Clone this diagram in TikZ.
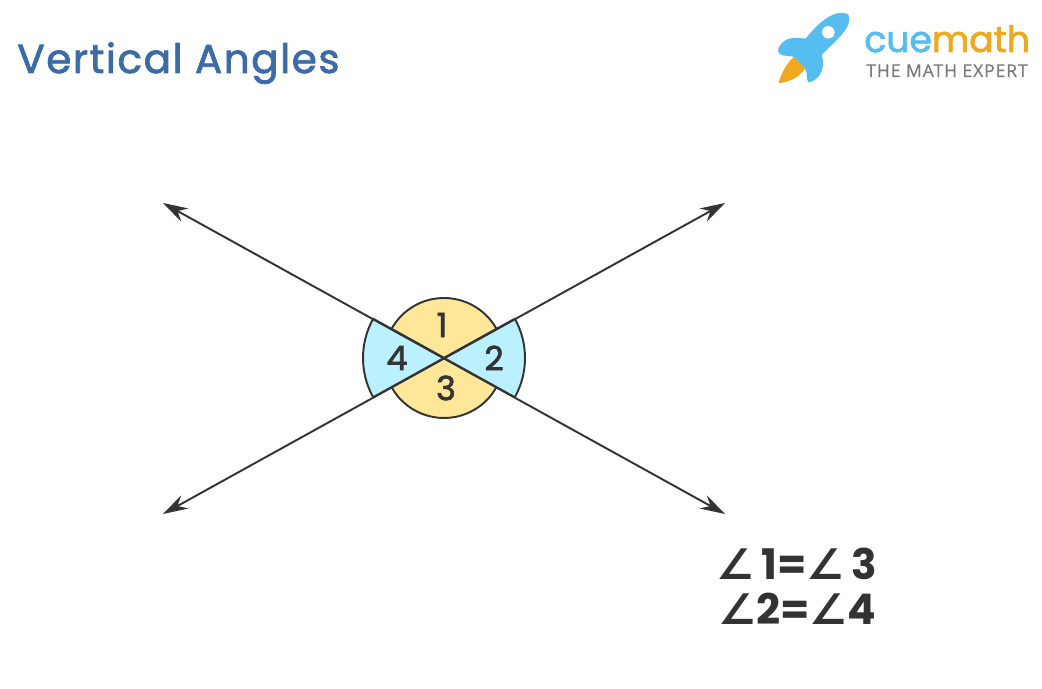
\documentclass[tikz,border=0pt]{standalone}
\usepackage{fontspec}
\setmainfont{Poppins}
\newfontfamily\angfont{DejaVu Sans}
\newfontfamily\titlefont[LetterSpace=4,FakeBold=2]{Poppins}
\newfontfamily\digitfont[FakeBold=2]{Poppins}
\newfontfamily\logofont[FakeBold=2]{Poppins}
\newfontfamily\subfont[LetterSpace=5,FakeBold=0.5]{Open Sans}
\usetikzlibrary{arrows.meta,positioning}
\definecolor{inkdark}{HTML}{333333}
\definecolor{sunfill}{HTML}{FFE799}
\definecolor{skyfill}{HTML}{BBF1FF}
\definecolor{titleblue}{HTML}{3C6CA8}
\definecolor{rocketblue}{HTML}{56BDF0}
\definecolor{rocketorange}{HTML}{F0A91F}
\definecolor{subgray}{HTML}{7A7A7A}
\newcommand{\ang}{{\angfont\char"2220}}
\tikzset{
	ray/.style={draw=inkdark,line width=1.1pt,{Stealth[length=.5cm,width=.3cm,inset=.17cm]}-{Stealth[length=.5cm,width=.3cm,inset=.17cm]}},
	sector/.style={draw=inkdark,line width=1.1pt,line join=round},
	number/.style={text=inkdark,font=\fontsize{19}{19}\selectfont\digitfont,inner sep=0pt},
	equal/.style={text=inkdark,font=\fontsize{24}{24}\selectfont\bfseries,inner sep=0pt,anchor=base west}
}

\begin{document}
\begin{tikzpicture}[x=0.02cm,y=0.02cm]
			\useasboundingbox (0,0) rectangle (1042,689);
			% points of the two lines, y counted from the bottom
			\coordinate (ctr) at (444,331);
			\coordinate (nw) at (163,486);
			\coordinate (ne) at (725,486);
			\coordinate (sw) at (163,175);
			\coordinate (se) at (725,175);
			% angles
			\draw[sector,fill=sunfill] (ctr) -- ++(29:60) arc[start angle=29,end angle=151,radius=60] -- cycle;
			\draw[sector,fill=sunfill] (ctr) -- ++(209:60) arc[start angle=209,end angle=331,radius=60] -- cycle;
			\draw[sector,fill=skyfill] (ctr) -- ++(-29:81) arc[start angle=-29,end angle=29,radius=81] -- cycle;
			\draw[sector,fill=skyfill] (ctr) -- ++(151:81) arc[start angle=151,end angle=209,radius=81] -- cycle;
			\draw[ray] (nw) -- (se);
			\draw[ray] (sw) -- (ne);
			\node[number] (one) at (442,364) {1};
			\node[number] (two) at (494,331) {2};
			\node[number] (three) at (446,301) {3};
			\node[number] (four) at (397,331) {4};
			% title and logo
			\node[text=titleblue,anchor=base west,inner sep=0pt,font=\fontsize{23}{23}\selectfont\titlefont] (title) at (17,616) {Vertical Angles};
			\fill[rocketorange] (778.3,605.7) .. controls (781,613) and (785,625) .. (794,632) -- (805,620.7) .. controls (800,612) and (790,607) .. (778.3,605.7) -- cycle;
			\fill[rocketblue] (848.3,674.7) .. controls (840,679) and (825,675) .. (806,650.7) .. controls (797,650) and (786,655) .. (778.3,640.7) .. controls (777,632) and (785,634) .. (793.3,632.3) -- (805,620.7) .. controls (808,615) and (806,610) .. (808.3,606.7) .. controls (816,607) and (827,618) .. (821.7,634) .. controls (835,648) and (854,662) .. (848.3,674.7) -- cycle;
			\fill[white] (828.3,656.7) circle[radius=6.3];
			\node[anchor=base west,inner sep=0pt,font=\fontsize{20.6}{20.6}\selectfont\logofont] (brand) at (864,637) {\textcolor{rocketblue}{cue}\textcolor{rocketorange}{math}};
			\node[anchor=base west,inner sep=0pt,text=subgray,font=\fontsize{10}{10}\selectfont\subfont] (slogan) at (866,612) {THE MATH EXPERT};
			% the two equalities
			\node[equal] (eqa) at (716,109) {\ang\,1=\ang\,3};
			\node[equal] (eqb) at (718,64) {\ang 2=\ang 4};
		\end{tikzpicture}
\end{document}
